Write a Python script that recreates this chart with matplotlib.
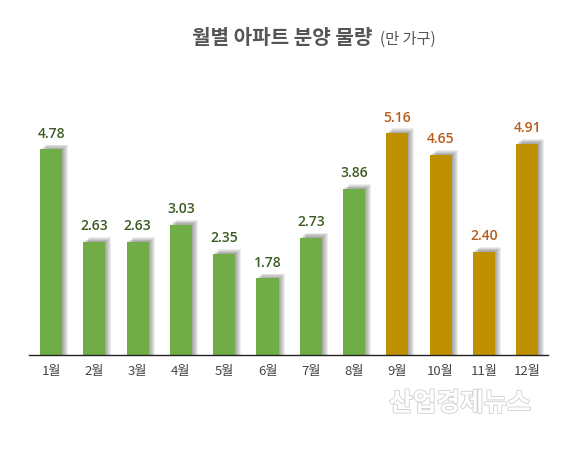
import matplotlib
matplotlib.use("Agg")
import matplotlib.pyplot as plt
import matplotlib.patheffects as pe

plt.rcParams['font.family'] = ['Noto Sans CJK KR', 'DejaVu Sans']

months = ['1월', '2월', '3월', '4월', '5월', '6월', '7월', '8월', '9월', '10월', '11월', '12월']
values = [4.78, 2.63, 2.63, 3.03, 2.35, 1.78, 2.73, 3.86, 5.16, 4.65, 2.40, 4.91]
colors = ['#70ad47'] * 8 + ['#bf9000'] * 4
label_colors = ['#3b5b23'] * 8 + ['#b85c1a'] * 4

fig = plt.figure(figsize=(5.75, 4.62), dpi=100)
ax = fig.add_axes([29 / 575, 107 / 462, 519 / 575, 258 / 462])

x = list(range(len(values)))
w = 0.51
# px -> data units
px_x = 1 / 43.3
px_y = 1 / 43.0

# soft shadow: stacked translucent grey bars shifted up/right
for k in range(1, 7):
    ax.bar([i + k * px_x for i in x], [v + k * px_y * 0.8 for v in values], width=w,
           color='#505050', alpha=0.1, zorder=1, linewidth=0)
ax.bar(x, values, width=w, color=colors, zorder=3, linewidth=0)

for i, v in enumerate(values):
    ax.text(i, v + 0.2, f'{v:.2f}', ha='center', va='bottom', fontsize=10,
            fontweight='semibold', color=label_colors[i], family=['Open Sans', 'DejaVu Sans'])

ax.set_xlim(-0.51, 11.48)
ax.set_ylim(0, 6)
ax.set_yticks([])
ax.set_xticks(x)
ax.set_xticklabels(months, fontsize=9.5, color='#444444')
ax.tick_params(axis='x', length=0, pad=7)
for s in ['top', 'right', 'left']:
    ax.spines[s].set_visible(False)
ax.spines['bottom'].set_color('#222222')
ax.spines['bottom'].set_linewidth(1.0)
ax.spines['bottom'].set_zorder(4)

fig.text(0.647, 0.918, '월별 아파트 분양 물량', ha='right', va='center', fontsize=14.5,
         fontweight='bold', color='#555555')
fig.text(0.660, 0.914, '(만 가구)', ha='left', va='center', fontsize=11, color='#555555')

wm = fig.text(0.800, 0.127, '산업경제뉴스', ha='center', va='center', fontsize=18.5,
              color='white', fontweight='bold')
wm.set_path_effects([pe.Stroke(linewidth=1.2, foreground='#cfcfcf'), pe.Normal()])

fig.savefig('out.png', dpi=100)
